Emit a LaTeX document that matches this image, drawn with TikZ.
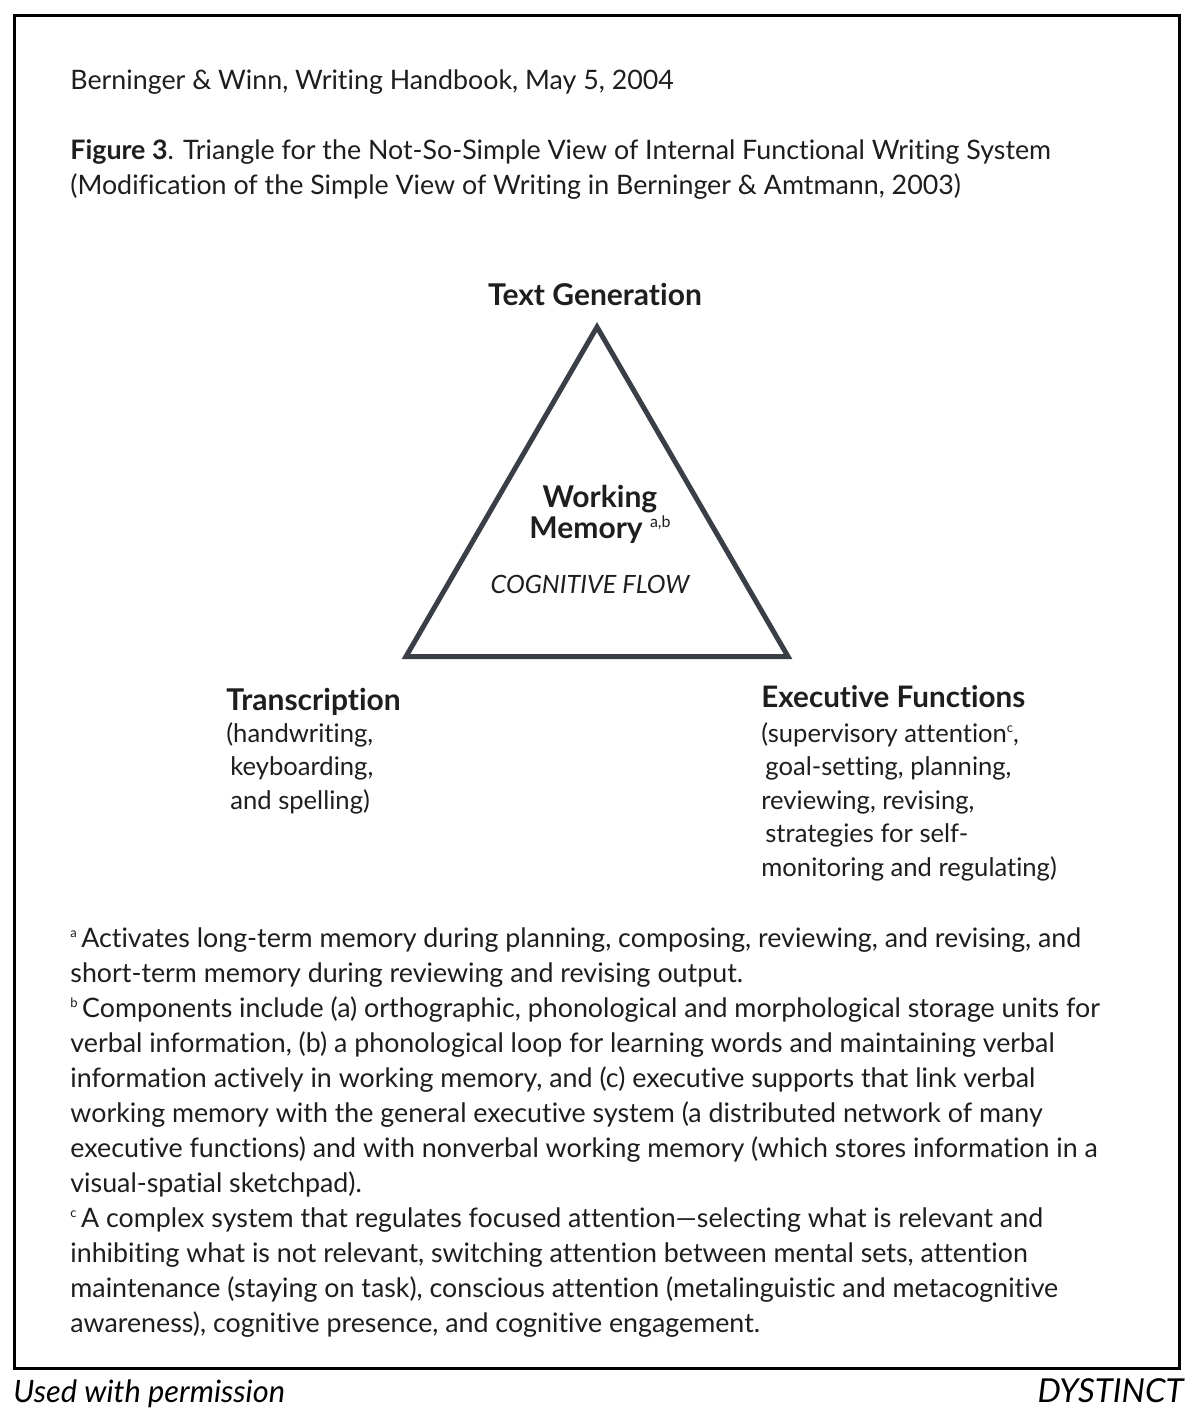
\documentclass[tikz,border=0pt]{standalone}
\usepackage{fontspec}
\setmainfont{Lato}[Ligatures={TeX,NoCommon}]
\usetikzlibrary{positioning}
\definecolor{trishade}{HTML}{3A3F47}
\definecolor{inktext}{HTML}{1E1E1E}
\tikzset{
    outerframe/.style={draw=black, line width=1.5pt},
    triside/.style={draw=trishade, line width=2.5pt, line join=miter},
    plain/.style={anchor=base west, inner sep=0pt, align=left, text=inktext, font=\fontsize{13.4}{17.5}\selectfont},
    corner/.style={inner sep=0pt, text=inktext, font=\bfseries\fontsize{15}{16}\selectfont},
    detail/.style={anchor=base west, inner sep=0pt, align=left, text=inktext, font=\fontsize{12.8}{16.75}\selectfont},
    credit/.style={anchor=base, inner sep=0pt, text=black, font=\itshape\fontsize{15.4}{17}\selectfont},
}
\newcommand{\fnmark}[1]{{\fontsize{6.5}{7}\selectfont\raisebox{5pt}{#1}}}

\begin{document}
\begin{tikzpicture}[x=0.5pt, y=-0.5pt]
        \useasboundingbox (0,0) rectangle (1192,1425);
        \fill[white] (0,0) rectangle (1192,1425);
        \draw[outerframe] (14.5,15.5) rectangle (1179.5,1368.5);

        % Heading (multi-line nodes sit on their last baseline)
        \node[plain] (source) at (70,89) {Berninger \& Winn, Writing Handbook, May 5, 2004};
        \node[plain] (caption) at (70,194) {\textbf{Figure 3}. Triangle for the Not-So-Simple View of Internal Functional Writing System\\
            (Modification of the Simple View of Writing in Berninger \& Amtmann, 2003)};

        % Triangle
        \coordinate (apex) at (597,327);
        \coordinate (baseleft) at (406,656.5);
        \coordinate (baseright) at (788,656.5);
        \draw[triside] (apex) -- (baseleft) -- (baseright) -- cycle;

        \node[corner, anchor=base] (textgen) at (595,305) {Text Generation};
        \node[corner, anchor=base, align=center, font=\bfseries\fontsize{15}{15.5}\selectfont] (memory) at (600,538)
            {Working\\Memory {\normalfont\fontsize{8}{8}\selectfont\raisebox{5.5pt}{a,b}}};
        \node[credit, font=\itshape\fontsize{12.6}{14}\selectfont, text=inktext] (flow) at (590,593) {COGNITIVE FLOW};

        % Corners of the triangle
        \node[corner, anchor=base west] (transcription) at (226,710) {Transcription};
        \node[detail] (transcription_list) at (226,809) {(handwriting,\\
            \hspace{2pt}keyboarding,\\
            \hspace{2pt}and spelling)};

        \node[corner, anchor=base west, font=\bfseries\fontsize{14.8}{16}\selectfont] (executive) at (761,707) {Executive Functions};
        \node[detail] (executive_list) at (761,876) {(supervisory attention\fnmark{c},\\
            \hspace{2pt}goal-setting, planning,\\
            reviewing, revising,\\
            \hspace{2pt}strategies for self-\\
            monitoring and regulating)};

        % Footnotes
        \node[plain] (notes) at (70,1332) {\fnmark{a}\,Activates long-term memory during planning, composing, reviewing, and revising, and\\
            short-term memory during reviewing and revising output.\\
            \fnmark{b}\,Components include (a) orthographic, phonological and morphological storage units for\\
            verbal information, (b) a phonological loop for learning words and maintaining verbal\\
            information actively in working memory, and (c) executive supports that link verbal\\
            working memory with the general executive system (a distributed network of many\\
            executive functions) and with nonverbal working memory (which stores information in a\\
            visual-spatial sketchpad).\\
            \fnmark{c}\,A complex system that regulates focused attention—selecting what is relevant and\\
            inhibiting what is not relevant, switching attention between mental sets, attention\\
            maintenance (staying on task), conscious attention (metalinguistic and metacognitive\\
            awareness), cognitive presence, and cognitive engagement.};

        % Below the frame
        \node[credit, anchor=base west] (permission) at (13,1402) {Used with permission};
        \node[credit, anchor=base east, font=\itshape\fontsize{16.5}{17}\selectfont] (brand) at (1184,1402) {DYSTINCT};
    \end{tikzpicture}
\end{document}
